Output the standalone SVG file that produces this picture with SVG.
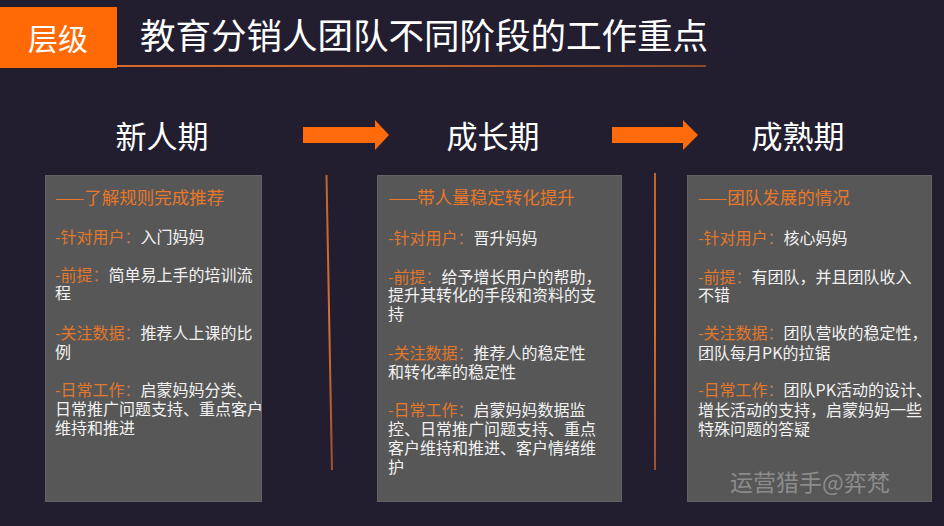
<svg xmlns="http://www.w3.org/2000/svg" width="944" height="526" viewBox="0 0 944 526">
<defs>
<linearGradient id="ul" x1="0" y1="0" x2="1" y2="0">
<stop offset="0" stop-color="#d86a2a"/>
<stop offset="0.6" stop-color="#b85c2c"/>
<stop offset="1" stop-color="#8c4a2c"/>
</linearGradient>
<linearGradient id="vl" gradientUnits="userSpaceOnUse" x1="0" y1="173" x2="0" y2="470">
<stop offset="0" stop-color="#c0642c"/>
<stop offset="0.5" stop-color="#d4702e"/>
<stop offset="1" stop-color="#9c5030"/>
</linearGradient>
</defs>
<style>
text{font-family:"Noto Sans CJK SC","Noto Sans",sans-serif;}
.box{fill:#575757;stroke:#636363;stroke-width:1;}
.hd{fill:#e8772a;font-size:17.5px;}
.bd{fill:#f2f2f2;font-size:16px;}
.lb{fill:#e2782c;}
.cl{fill:#b9785a;}
.stage{fill:#ffffff;font-size:31px;text-anchor:middle;}
.arrow{fill:#ff6a0a;}
.vline{stroke:url(#vl);stroke-width:2;fill:none;}
</style>
<rect width="944" height="526" fill="#221e2f"/>

<g id="header">
<rect x="0" y="7" width="117" height="61" fill="#ff6a06"/>
<text x="58" y="50" font-size="30" fill="#ffffff" text-anchor="middle">层级</text>
<text x="140" y="49" font-size="35.5" fill="#ffffff">教育分销人团队不同阶段的工作重点</text>
<rect x="117" y="65" width="589" height="2" fill="url(#ul)"/>
</g>

<g id="stage-new"><text class="stage" x="162" y="148">新人期</text></g>
<g id="stage-grow"><text class="stage" x="493" y="148">成长期</text></g>
<g id="stage-mature"><text class="stage" x="798" y="148">成熟期</text></g>

<g id="connectors">
<polygon class="arrow" points="303,127 375,127 375,120 389,135 375,150 375,143 303,143"/>
<polygon class="arrow" points="612,127 683,127 683,120 698,135 683,150 683,143 612,143"/>
<line class="vline" x1="326.5" y1="175" x2="332" y2="470"/>
<line class="vline" x1="655" y1="173" x2="655" y2="470"/>
</g>

<g id="box-new">
<rect class="box" x="45.5" y="175.5" width="216" height="326"/>
<text class="hd" x="55" y="203.5">——了解规则完成推荐</text>
<text class="bd" x="55" y="243"><tspan class="lb">-针对用户</tspan><tspan class="cl">：</tspan>入门妈妈</text>
<text class="bd" x="55" y="281"><tspan class="lb">-前提</tspan><tspan class="cl">：</tspan>简单易上手的培训流</text>
<text class="bd" x="55" y="299">程</text>
<text class="bd" x="55" y="339"><tspan class="lb">-关注数据</tspan><tspan class="cl">：</tspan>推荐人上课的比</text>
<text class="bd" x="55" y="358">例</text>
<text class="bd" x="55" y="396"><tspan class="lb">-日常工作</tspan><tspan class="cl">：</tspan>启蒙妈妈分类、</text>
<text class="bd" x="55" y="415">日常推广问题支持、重点客户</text>
<text class="bd" x="55" y="434">维持和推进</text>
</g>

<g id="box-grow">
<rect class="box" x="377.5" y="175.5" width="244" height="326"/>
<text class="hd" x="388" y="204">——带人量稳定转化提升</text>
<text class="bd" x="388" y="244"><tspan class="lb">-针对用户</tspan><tspan class="cl">：</tspan>晋升妈妈</text>
<text class="bd" x="388" y="283"><tspan class="lb">-前提</tspan><tspan class="cl">：</tspan>给予增长用户的帮助，</text>
<text class="bd" x="388" y="301">提升其转化的手段和资料的支</text>
<text class="bd" x="388" y="320">持</text>
<text class="bd" x="388" y="359"><tspan class="lb">-关注数据</tspan><tspan class="cl">：</tspan>推荐人的稳定性</text>
<text class="bd" x="388" y="378">和转化率的稳定性</text>
<text class="bd" x="388" y="416"><tspan class="lb">-日常工作</tspan><tspan class="cl">：</tspan>启蒙妈妈数据监</text>
<text class="bd" x="388" y="435">控、日常推广问题支持、重点</text>
<text class="bd" x="388" y="454">客户维持和推进、客户情绪维</text>
<text class="bd" x="388" y="473">护</text>
</g>

<g id="box-mature">
<rect class="box" x="687.5" y="175.5" width="244" height="326"/>
<text class="hd" x="698" y="204">——团队发展的情况</text>
<text class="bd" x="698" y="244"><tspan class="lb">-针对用户</tspan><tspan class="cl">：</tspan>核心妈妈</text>
<text class="bd" x="698" y="283"><tspan class="lb">-前提</tspan><tspan class="cl">：</tspan>有团队，并且团队收入</text>
<text class="bd" x="698" y="301">不错</text>
<text class="bd" x="698" y="339"><tspan class="lb">-关注数据</tspan><tspan class="cl">：</tspan>团队营收的稳定性，</text>
<text class="bd" x="698" y="359">团队每月PK的拉锯</text>
<text class="bd" x="698" y="396"><tspan class="lb">-日常工作</tspan><tspan class="cl">：</tspan>团队PK活动的设计、</text>
<text class="bd" x="698" y="416">增长活动的支持，启蒙妈妈一些</text>
<text class="bd" x="698" y="435">特殊问题的答疑</text>
<text x="810" y="491" font-size="23" fill="#8c8c8c" text-anchor="middle">运营猎手@弈梵</text>
</g>
</svg>
